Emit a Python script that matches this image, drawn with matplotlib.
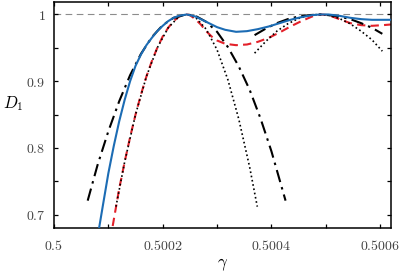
import matplotlib
matplotlib.use("Agg")
import matplotlib.pyplot as plt
from matplotlib.ticker import FixedLocator, MultipleLocator

plt.rcParams['mathtext.fontset'] = 'cm'
plt.rcParams['font.family'] = 'serif'
plt.rcParams['font.serif'] = ['DejaVu Serif']

# Blue solid curve
blue_g = [0.500083, 0.500090, 0.500100, 0.500110, 0.500120, 0.500130, 0.500140,
          0.500150, 0.500160, 0.500170, 0.500180, 0.500190, 0.500200, 0.500210,
          0.500220, 0.500230, 0.500244, 0.500250, 0.500260, 0.500270, 0.500280,
          0.500290, 0.500300, 0.500315, 0.500335, 0.500355, 0.500375, 0.500395,
          0.500415, 0.500435, 0.500455, 0.500475, 0.500490, 0.500505, 0.500525,
          0.500545, 0.500565, 0.500585, 0.500605, 0.500620]
blue_d = [0.680, 0.714, 0.762, 0.803, 0.840, 0.872, 0.900,
          0.923, 0.940, 0.954, 0.965, 0.975, 0.983, 0.990,
          0.995, 0.998, 1.000, 0.999, 0.997, 0.993, 0.989,
          0.985, 0.981, 0.977, 0.974, 0.975, 0.978, 0.982,
          0.987, 0.992, 0.996, 0.999, 1.000, 1.000, 0.998,
          0.995, 0.993, 0.992, 0.992, 0.992]

# Red dashed curve
red_g = [0.500108, 0.500120, 0.500130, 0.500140, 0.500150, 0.500160, 0.500170,
         0.500180, 0.500190, 0.500200, 0.500210, 0.500220, 0.500230, 0.500244,
         0.500250, 0.500260, 0.500270, 0.500280, 0.500290, 0.500300, 0.500315,
         0.500335, 0.500355, 0.500375, 0.500395, 0.500415, 0.500435, 0.500455,
         0.500475, 0.500490, 0.500505, 0.500525, 0.500545, 0.500565, 0.500585,
         0.500605, 0.500620]
red_d = [0.683, 0.739, 0.779, 0.816, 0.850, 0.880, 0.907,
         0.930, 0.950, 0.967, 0.980, 0.990, 0.997, 1.000,
         0.999, 0.993, 0.985, 0.975, 0.967, 0.961, 0.956,
         0.954, 0.955, 0.959, 0.965, 0.973, 0.982, 0.990,
         0.997, 1.000, 0.999, 0.993, 0.987, 0.984, 0.983,
         0.984, 0.985]

# Black dash-dot curve (two branches)
dd1_g = [0.500062, 0.500080, 0.500100, 0.500120, 0.500140, 0.500160, 0.500180,
         0.500200, 0.500220, 0.500244, 0.500260, 0.500280, 0.500300, 0.500320,
         0.500340, 0.500360, 0.500380, 0.500400, 0.500426]
dd1_d = [0.721, 0.774, 0.825, 0.870, 0.909, 0.941, 0.966,
         0.984, 0.995, 1.000, 0.998, 0.989, 0.974, 0.951,
         0.922, 0.887, 0.844, 0.795, 0.721]
dd2_g = [0.500369, 0.500390, 0.500410, 0.500430, 0.500450, 0.500470, 0.500488,
         0.500505, 0.500525, 0.500545, 0.500565, 0.500585, 0.500604]
dd2_d = [0.969, 0.979, 0.987, 0.993, 0.997, 0.999, 1.000,
         0.999, 0.997, 0.993, 0.987, 0.980, 0.971]

# Black dotted curve (two branches)
dot1_g = [0.500114, 0.500130, 0.500150, 0.500170, 0.500190, 0.500210, 0.500230,
          0.500244, 0.500260, 0.500280, 0.500300, 0.500320, 0.500340, 0.500360,
          0.500374]
dot1_d = [0.712, 0.779, 0.850, 0.907, 0.950, 0.980, 0.997,
          1.000, 0.996, 0.978, 0.947, 0.902, 0.843, 0.771,
          0.712]
dot2_g = [0.500369, 0.500390, 0.500410, 0.500430, 0.500450, 0.500470, 0.500488,
          0.500505, 0.500525, 0.500545, 0.500565, 0.500585, 0.500604]
dot2_d = [0.942, 0.960, 0.975, 0.986, 0.994, 0.999, 1.000,
          0.999, 0.994, 0.986, 0.975, 0.962, 0.945]

xticks = [0.5, 0.5002, 0.5004, 0.5006]
xtick_labels = ['0.5', '0.5002', '0.5004', '0.5006']
yticks = [0.7, 0.8, 0.9, 1.0]
ytick_labels = ['0.7', '0.8', '0.9', '1']

fig = plt.figure(figsize=(3.99, 2.73), dpi=100)
ax = fig.add_axes([0.1353, 0.1648, 0.8447, 0.8279])

ax.axhline(1.0, color='#8c8c8c', lw=0.8, ls=(0, (6, 4)), zorder=1)

ax.plot(dot1_g, dot1_d, color='black', lw=1.2, ls=(0, (1, 1.6)), zorder=3)
ax.plot(dot2_g, dot2_d, color='black', lw=1.2, ls=(0, (1, 1.6)), zorder=3)
ax.plot(dd1_g, dd1_d, color='black', lw=1.5, ls=(0, (6, 2.5, 1.2, 2.5)), zorder=3)
ax.plot(dd2_g, dd2_d, color='black', lw=1.5, ls=(0, (6, 2.5, 1.2, 2.5)), zorder=3)
ax.plot(red_g, red_d, color='#e3212a', lw=1.5, ls=(0, (4, 2.5)), zorder=2)
ax.plot(blue_g, blue_d, color='#1c6cb4', lw=1.5, zorder=4)

ax.set_xlim(0.5, 0.50062)
ax.set_ylim(0.68, 1.0187)

ax.xaxis.set_major_locator(FixedLocator(xticks))
ax.set_xticklabels(['$' + s + '$' for s in xtick_labels])
ax.xaxis.set_minor_locator(MultipleLocator(0.0001))
ax.yaxis.set_major_locator(FixedLocator(yticks))
ax.set_yticklabels(['$' + s + '$' for s in ytick_labels])
ax.yaxis.set_minor_locator(MultipleLocator(0.05))

ax.tick_params(which='both', direction='in', top=True, right=True,
               length=3, width=0.9, labelsize=10, labelcolor='#444444')
ax.tick_params(axis='x', pad=8)
ax.tick_params(axis='y', pad=6)
for s in ax.spines.values():
    s.set_linewidth(1.1)

ax.set_xlabel(r'$\gamma$', fontsize=12)
ax.xaxis.set_label_coords(0.5, -0.125)
ax.set_ylabel(r'$D_1$', fontsize=12, rotation=0, va='center')
ax.yaxis.set_label_coords(-0.12, 0.55)

fig.savefig('out.png', dpi=100)
